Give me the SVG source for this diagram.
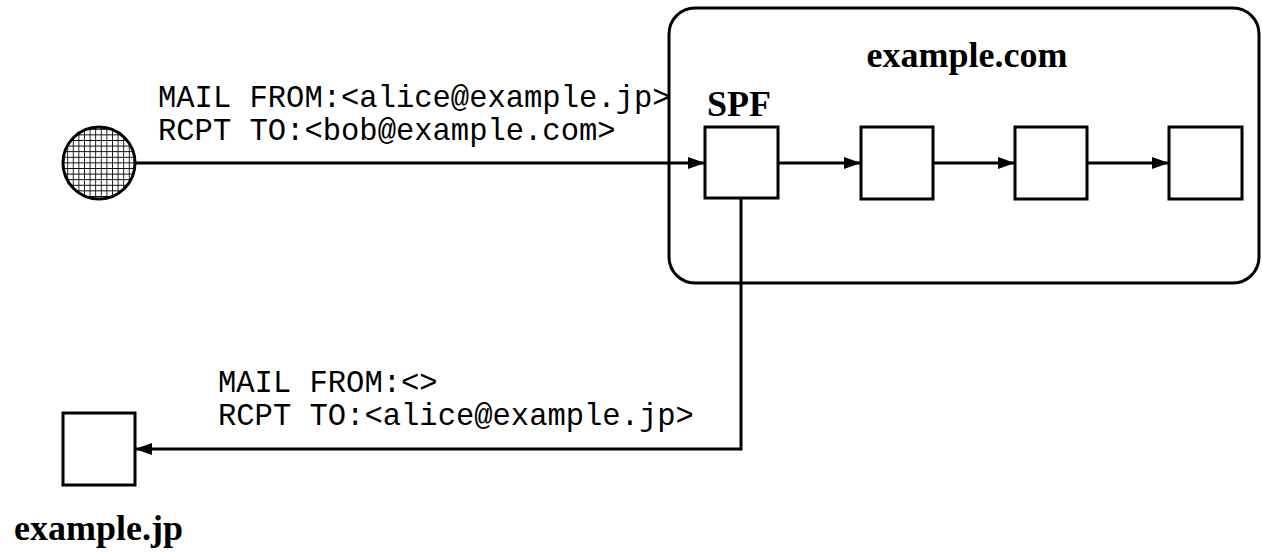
<svg xmlns="http://www.w3.org/2000/svg" width="1262" height="552" viewBox="0 0 1262 552">
  <style>
    .box { fill: #fff; stroke: #000; stroke-width: 3; }
    .line { fill: none; stroke: #000; stroke-width: 3; }
    .mono { font-family: "Liberation Mono", "Courier New", monospace; font-size: 30.5px; fill: #000; }
    .title { font-family: "Liberation Serif", "Times New Roman", serif; font-weight: bold; fill: #000; }
  </style>
  <defs>
    <pattern id="grid" width="5.6" height="5.6" patternUnits="userSpaceOnUse">
      <rect width="5.6" height="5.6" fill="#fff"/>
      <path d="M0 0 H5.6 M0 0 V5.6" stroke="#000" stroke-width="1.7"/>
    </pattern>
    <marker id="arrow" markerWidth="17" markerHeight="12" refX="17" refY="6" orient="auto" markerUnits="userSpaceOnUse">
      <path d="M0 0 L17 6 L0 12 Z" fill="#000"/>
    </marker>
  </defs>

  <!-- receiving domain -->
  <g id="domain-example-com">
    <rect class="box" x="669" y="8" width="590" height="275" rx="26" ry="26"/>
    <text class="title" x="967" y="67" font-size="36" text-anchor="middle">example.com</text>
  </g>

  <!-- sending client -->
  <g id="client">
    <circle cx="99" cy="163" r="36" fill="url(#grid)" stroke="#000" stroke-width="3"/>
  </g>

  <g id="spf">
    <rect class="box" x="705" y="127" width="73" height="71"/>
    <text class="title" x="707" y="116" font-size="36">SPF</text>
  </g>
  <g id="stage2"><rect class="box" x="861" y="127" width="72" height="72"/></g>
  <g id="stage3"><rect class="box" x="1015" y="127" width="72" height="72"/></g>
  <g id="stage4"><rect class="box" x="1169" y="127" width="73" height="72"/></g>

  <!-- sender domain -->
  <g id="domain-example-jp">
    <rect class="box" x="63" y="413" width="72" height="72"/>
    <text class="title" x="14" y="540" font-size="36">example.jp</text>
  </g>

  <!-- connectors -->
  <g id="connectors">
    <line class="line" x1="135" y1="163" x2="705" y2="163" marker-end="url(#arrow)"/>
    <line class="line" x1="778" y1="163" x2="861" y2="163" marker-end="url(#arrow)"/>
    <line class="line" x1="933" y1="163" x2="1015" y2="163" marker-end="url(#arrow)"/>
    <line class="line" x1="1087" y1="163" x2="1169" y2="163" marker-end="url(#arrow)"/>
    <polyline class="line" points="741,198 741,449 135,449" marker-end="url(#arrow)"/>
  </g>

  <!-- envelope labels -->
  <g id="labels">
    <text class="mono" x="158" y="107">MAIL FROM:&lt;alice@example.jp&gt;</text>
    <text class="mono" x="158" y="140">RCPT TO:&lt;bob@example.com&gt;</text>
    <text class="mono" x="218" y="392">MAIL FROM:&lt;&gt;</text>
    <text class="mono" x="218" y="425">RCPT TO:&lt;alice@example.jp&gt;</text>
  </g>
</svg>
